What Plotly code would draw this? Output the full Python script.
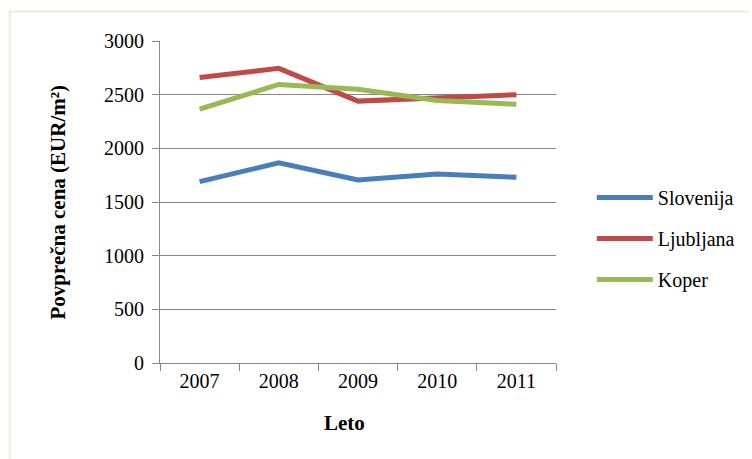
import plotly.graph_objects as go

years = ["2007", "2008", "2009", "2010", "2011"]
slovenija = [1690, 1865, 1705, 1760, 1730]
ljubljana = [2660, 2745, 2440, 2465, 2500]
koper = [2365, 2595, 2550, 2445, 2410]
y_ticks = [0, 500, 1000, 1500, 2000, 2500, 3000]

series = [("Slovenija", slovenija, "#4A7EBB"),
          ("Ljubljana", ljubljana, "#BE4B48"),
          ("Koper", koper, "#98B954")]

W, H = 752, 459
L, R, T, B = 160, 194, 41, 96
pw, ph = W - L - R, H - T - B

def px(x):
    return (x - L) / pw

def py(y):
    return (H - B - y) / ph

fig = go.Figure()
for name, vals, col in series:
    fig.add_trace(go.Scatter(x=years, y=vals, name=name, mode="lines",
                             legendgroup=name,
                             line=dict(color=col, width=5)))

font = "Liberation Serif"
fig.update_layout(
    width=W, height=H,
    margin=dict(l=L, r=R, t=T, b=B),
    paper_bgcolor="white", plot_bgcolor="white",
    font=dict(family=font, size=20, color="black"),
    showlegend=True,
    legend=dict(x=px(594), y=py(178), xanchor="left", yanchor="top",
                font=dict(family=font, size=20, color="black"),
                tracegroupgap=12, itemwidth=56,
                bgcolor="rgba(0,0,0,0)"),
    xaxis=dict(type="category", tickson="boundaries", ticks="outside",
               ticklen=7, tickcolor="#878787", showline=True,
               linecolor="#878787", linewidth=1, showgrid=False,
               tickfont=dict(family=font, size=20), range=[-0.5, 4.5]),
    yaxis=dict(range=[0, 3000], tickvals=y_ticks, ticks="outside",
               ticklen=7, tickcolor="#878787", showline=True,
               linecolor="#878787", linewidth=1, showgrid=True,
               gridcolor="#878787", gridwidth=1, zeroline=False,
               tickfont=dict(family=font, size=20), ticklabelstandoff=4),
    shapes=[
        dict(type="line", xref="paper", yref="paper", x0=px(8), x1=px(752),
             y0=py(11.5), y1=py(11.5), line=dict(color="#EEEADF", width=2)),
        dict(type="line", xref="paper", yref="paper", x0=px(9), x1=px(9),
             y0=py(11), y1=py(459), line=dict(color="#EEEADF", width=2)),
    ],
    annotations=[
        dict(text="<b>Povprečna cena (EUR/m²)</b>", xref="paper", yref="paper",
             x=px(57), y=py(202), textangle=-90, showarrow=False,
             font=dict(family=font, size=21), xanchor="center", yanchor="middle"),
        dict(text="<b>Leto</b>", xref="paper", yref="paper",
             x=px(345), y=py(423), showarrow=False,
             font=dict(family=font, size=21), xanchor="center", yanchor="middle"),
    ],
)

fig.write_html("out.html", config={"displayModeBar": False},
               post_script="document.body.style.margin='0';document.body.style.overflow='hidden';")
